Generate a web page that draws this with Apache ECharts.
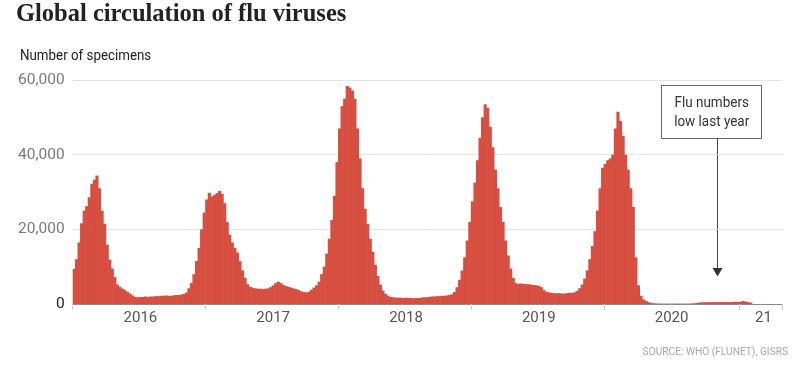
<!DOCTYPE html>
<html><head><meta charset="utf-8">
<script src="https://cdn.jsdelivr.net/npm/echarts@6/dist/echarts.min.js"></script>
<style>html,body{margin:0;padding:0;background:#fff}#c{width:800px;height:369px}</style>
</head><body><div id="c"></div>
<script>
// Weekly number of flu specimens (WHO FluNet)
const years = [2016, 2017, 2018, 2019, 2020, 2021];
const weeksPerYear = [52, 52, 52, 52, 53, 17];
const yearLabels = ['2016', '2017', '2018', '2019', '2020', '21'];
const yTicks = [0, 20000, 40000, 60000];

const flu2016 = [9400, 12000, 16500, 21600, 25000, 26200, 28600, 32200, 33300, 34400,
  31000, 25000, 21500, 15900, 11900, 9500, 7200, 5200, 4600, 4100,
  3700, 3200, 2800, 2300, 1900, 1800, 1900, 1900, 2000, 1900,
  2000, 2000, 2100, 2100, 2200, 2200, 2300, 2200, 2200, 2300,
  2400, 2400, 2500, 2700, 3100, 4200, 5600, 8000, 11500, 15000, 20000, 24500];
const flu2017 = [28000, 29800, 28800, 29200, 29700, 30300, 29500, 27000, 22000, 18500,
  16500, 15000, 13800, 11500, 9000, 7000, 5300, 4600, 4400, 4200,
  4100, 4100, 4000, 4100, 4200, 4500, 5000, 5600, 6000, 5600,
  5100, 4800, 4600, 4400, 4200, 4000, 3700, 3400, 3200, 3100,
  3300, 3800, 4400, 5000, 6000, 8000, 10000, 13500, 17500, 22500, 29000, 38000];
const flu2018 = [47000, 53000, 55000, 58400, 58000, 57200, 55000, 47000, 39000, 31000,
  25500, 21500, 17500, 14000, 10500, 7500, 5200, 3600, 2700, 2200,
  1900, 1800, 1700, 1700, 1700, 1600, 1700, 1600, 1600, 1500,
  1600, 1600, 1700, 1800, 1800, 1900, 2000, 2000, 2100, 2100,
  2200, 2200, 2300, 2400, 2600, 3200, 4500, 6500, 9000, 12500, 17000, 22000];
const flu2019 = [27500, 32500, 38500, 44500, 50000, 53500, 52500, 47500, 42000, 36000,
  31000, 26000, 22000, 17000, 13000, 9500, 7000, 5600, 5400, 5500,
  5400, 5300, 5300, 5200, 5100, 5000, 4900, 4500, 3700, 3300,
  3100, 3000, 2900, 2900, 2900, 2800, 2800, 2900, 3000, 3000,
  3100, 3500, 4200, 5200, 6800, 9000, 12000, 15500, 19500, 25000, 31000, 36500];
const flu2020 = [37500, 38500, 39000, 40000, 47000, 51500, 49000, 45000, 40000, 36000,
  31000, 26000, 12500, 5000, 2200, 1200, 800, 500, 300, 200,
  150, 120, 100, 100, 100, 100, 100, 100, 100, 100,
  100, 100, 100, 100, 150, 200, 300, 400, 450, 450,
  500, 500, 500, 550, 500, 500, 550, 550, 500, 500, 550, 600, 600];
const flu2021 = [600, 800, 650, 500, 400];

const yearData = [flu2016, flu2017, flu2018, flu2019, flu2020, flu2021];

// build category axis (one category per week) from the arrays above
const categories = [];
const values = [];
const yearStartIdx = new Set();
const labelAt = {};
years.forEach(function (y, yi) {
  const n = weeksPerYear[yi];
  yearStartIdx.add(categories.length);
  const mid = categories.length + (yi === years.length - 1 ? 9 : Math.floor(n / 2));
  labelAt[mid] = yearLabels[yi];
  for (let w = 0; w < n; w++) {
    categories.push(y + '-W' + (w + 1));
    const v = yearData[yi][w];
    values.push(v === undefined ? null : v);
  }
});

const chart = echarts.init(document.getElementById('c'), null, {renderer: 'canvas'});
chart.setOption({
  animation: false,
  backgroundColor: '#fff',
  grid: {left: 72.7, right: 17.3, top: 80, bottom: 65},
  xAxis: {
    type: 'category',
    data: categories,
    boundaryGap: true,
    axisLine: {show: true, lineStyle: {color: '#8a8a8a', width: 1}},
    axisTick: {show: true, length: 6, interval: function (i) { return yearStartIdx.has(i); },
      lineStyle: {color: '#cfcfcf'}},
    axisLabel: {
      interval: function (i) { return labelAt[i] !== undefined; },
      formatter: function (v, i) { return labelAt[i] || ''; },
      color: '#555', fontFamily: 'Roboto', fontSize: 15, margin: 7
    },
    splitLine: {show: false}
  },
  yAxis: {
    type: 'value', min: 0, max: 60000, interval: 20000,
    axisLine: {show: false}, axisTick: {show: false},
    axisLabel: {
      fontFamily: 'Roboto', fontSize: 15.5, margin: 8,
      color: function (v) { return Number(v) === 0 ? '#222' : '#7a7a7a'; },
      formatter: function (v) { return v.toLocaleString('en-US'); }
    },
    splitLine: {lineStyle: {color: '#e3e3e3', width: 1}}
  },
  series: [{
    type: 'bar',
    data: values,
    barWidth: '125%',
    itemStyle: {color: '#d64f41'},
    emphasis: {disabled: true}
  }],
  graphic: [
    {type: 'text', left: 16, top: 2, style: {text: 'Global circulation of flu viruses',
      font: 'bold 24.5px "Liberation Serif"', fill: '#222'}},
    {type: 'text', x: 20, y: 56, scaleX: 0.92, style: {text: 'Number of specimens',
      font: '14.5px Roboto', fill: '#222', verticalAlign: 'middle'}},
    {type: 'text', x: 788, y: 352, scaleX: 0.885, style: {text: 'SOURCE: WHO (FLUNET), GISRS',
      font: '11.5px Roboto', fill: '#a8a8a8', align: 'right', verticalAlign: 'middle'}},
    {type: 'rect', shape: {x: 661.5, y: 85.5, width: 100, height: 53},
      style: {fill: '#fff', stroke: '#666', lineWidth: 1}},
    {type: 'text', x: 711.7, y: 103, scaleX: 0.87, style: {text: 'Flu numbers', align: 'center', verticalAlign: 'middle',
      font: '15.5px Roboto', fill: '#333'}},
    {type: 'text', x: 711.7, y: 122.5, scaleX: 0.87, style: {text: 'low last year', align: 'center', verticalAlign: 'middle',
      font: '15.5px Roboto', fill: '#333'}},
    {type: 'line', shape: {x1: 717.5, y1: 138.5, x2: 717.5, y2: 269}, style: {stroke: '#444', lineWidth: 1}},
    {type: 'polygon', shape: {points: [[712.5, 268], [722.5, 268], [717.5, 276.5]]}, style: {fill: '#333'}}
  ]
});
</script></body></html>
